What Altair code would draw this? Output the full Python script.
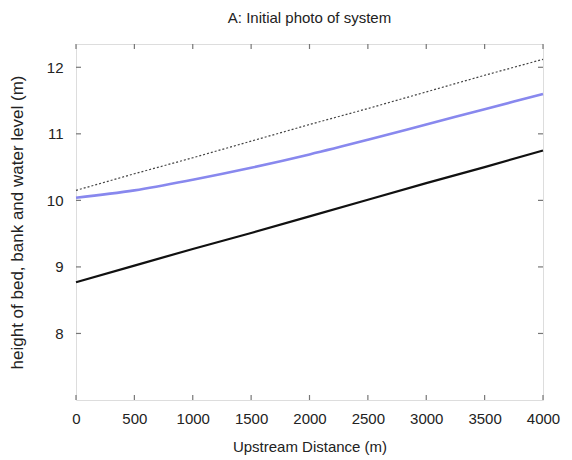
import altair as alt
import pandas as pd

distance = [0, 500, 1000, 1500, 2000, 2500, 3000, 3500, 4000]
bed = [8.77, 9.02, 9.27, 9.51, 9.76, 10.01, 10.26, 10.50, 10.75]
bank = [10.15, 10.40, 10.64, 10.89, 11.14, 11.38, 11.63, 11.88, 12.12]
water = [10.04, 10.15, 10.31, 10.49, 10.69, 10.91, 11.14, 11.37, 11.60]

x_ticks = [0, 500, 1000, 1500, 2000, 2500, 3000, 3500, 4000]
y_ticks = [8, 9, 10, 11, 12]

df = pd.DataFrame({"d": distance, "bed": bed, "bank": bank, "water": water})
xt = pd.DataFrame({"t": x_ticks})
yt = pd.DataFrame({"t": y_ticks})

FONT = "Liberation Sans"
W, H = 467, 356

xscale = alt.Scale(domain=[0, 4000], nice=False, zero=False)
yscale = alt.Scale(domain=[7.0, 12.35], nice=False, zero=False)

xaxis = alt.Axis(values=x_ticks, format="d", title="Upstream Distance (m)", grid=False, ticks=False,
                 domain=False, labelPadding=11, titlePadding=13, labelFontSize=15,
                 titleFontSize=15, labelFont=FONT, titleFont=FONT, labelColor="#222",
                 titleColor="#222", titleFontWeight="normal", labelFlush=False)
yaxis = alt.Axis(values=y_ticks, format="d", title="height of bed, bank and water level (m)", grid=False,
                 ticks=False, domain=False, labelPadding=13, titlePadding=20, labelFontSize=15,
                 titleFontSize=17, labelFont=FONT, titleFont=FONT, labelColor="#222",
                 titleColor="#222", titleFontWeight="normal")

base = alt.Chart(df)

bank_line = base.mark_line(color="#444444", strokeWidth=1.2, strokeDash=[2, 2]).encode(
    x=alt.X("d:Q", scale=xscale, axis=xaxis),
    y=alt.Y("bank:Q", scale=yscale, axis=yaxis),
)
water_line = base.mark_line(color="#8888ee", strokeWidth=2.6, interpolate="monotone").encode(
    x=alt.X("d:Q", scale=xscale),
    y=alt.Y("water:Q", scale=yscale),
)
bed_line = base.mark_line(color="#111111", strokeWidth=2.2).encode(
    x=alt.X("d:Q", scale=xscale),
    y=alt.Y("bed:Q", scale=yscale),
)

tick_color = "#777777"
xt_bottom = alt.Chart(xt).mark_rule(color=tick_color, strokeWidth=1.2).encode(
    x=alt.X("t:Q", scale=xscale), y=alt.value(H), y2=alt.value(H - 5))
xt_top = alt.Chart(xt).mark_rule(color=tick_color, strokeWidth=1.2).encode(
    x=alt.X("t:Q", scale=xscale), y=alt.value(0), y2=alt.value(5))
yt_left = alt.Chart(yt).mark_rule(color=tick_color, strokeWidth=1.2).encode(
    y=alt.Y("t:Q", scale=yscale), x=alt.value(0), x2=alt.value(5))
yt_right = alt.Chart(yt).mark_rule(color=tick_color, strokeWidth=1.2).encode(
    y=alt.Y("t:Q", scale=yscale), x=alt.value(W), x2=alt.value(W - 5))

chart = alt.layer(bank_line, water_line, bed_line, xt_bottom, xt_top, yt_left, yt_right).properties(
    width=W, height=H,
    title=alt.TitleParams("A: Initial photo of system", font=FONT, fontSize=15,
                          fontWeight="normal", color="#222", offset=17, anchor="middle"),
    autosize=alt.AutoSizeParams(type="none"),
    padding={"left": 68, "top": 36, "right": 21, "bottom": 60},
).configure_view(stroke="#777777", strokeWidth=1.5).configure(background="white")

chart.save("out.html", embed_options={"renderer": "svg", "actions": False})
